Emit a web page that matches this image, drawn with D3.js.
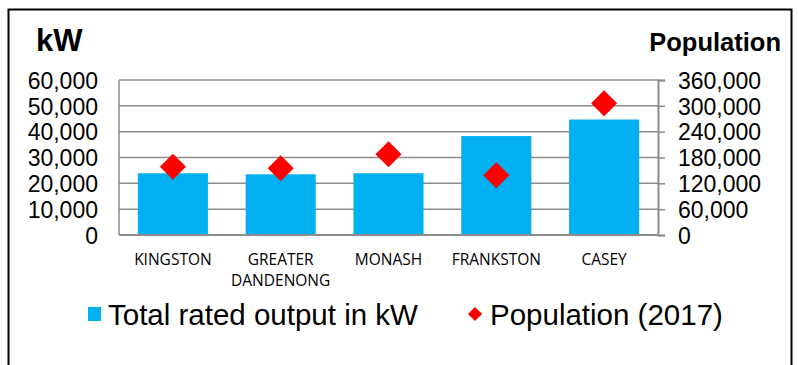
<!DOCTYPE html>
<html>
<head>
<meta charset="utf-8">
<script src="https://cdn.jsdelivr.net/npm/d3@7"></script>
<style>
  body { margin: 0; background: #fff; }
  svg { display: block; }
</style>
</head>
<body>
<svg id="chart" width="798" height="365"></svg>
<script>
// data
const councils = ["KINGSTON", "GREATER DANDENONG", "MONASH", "FRANKSTON", "CASEY"];
const outputKW = [23900, 23500, 23900, 38300, 44700];
const population = [158600, 154900, 187400, 138700, 305900];
const kwTicks = [0, 10000, 20000, 30000, 40000, 50000, 60000];
const popTicks = [0, 60000, 120000, 180000, 240000, 300000, 360000];

const svg = d3.select("#chart");
const m = { left: 119, right: 658, top: 80, bottom: 235 };
const sans = "Arial, 'Liberation Sans', sans-serif";

// outer frame
svg.append("rect")
    .attr("x", 8.5).attr("y", 9.5)
    .attr("width", 783).attr("height", 380)
    .attr("fill", "none").attr("stroke", "#000").attr("stroke-width", 2);

let x = d3.scaleBand().domain(councils).range([m.left, m.right]).paddingInner(0.35).paddingOuter(0.175);
let yL = d3.scaleLinear().domain([0, 60000]).range([m.bottom, m.top]);
let yR = d3.scaleLinear().domain([0, 360000]).range([m.bottom, m.top]);

const fmt = d3.format(",");

// gridlines
svg.append("g").selectAll("line")
    .data(kwTicks.slice(1))
    .join("line")
    .attr("x1", m.left).attr("x2", m.right)
    .attr("y1", d => yL(d)).attr("y2", d => yL(d))
    .attr("stroke", "#8c8c8c").attr("stroke-width", 1.5);

// bars
svg.append("g").selectAll("rect")
    .data(outputKW)
    .join("rect")
    .attr("x", (d, i) => x(councils[i]))
    .attr("width", x.bandwidth())
    .attr("y", d => yL(d))
    .attr("height", d => m.bottom - yL(d))
    .attr("fill", "#00b0f0");

// axis lines
svg.append("line").attr("x1", m.left).attr("x2", m.left).attr("y1", m.top).attr("y2", m.bottom)
    .attr("stroke", "#8c8c8c").attr("stroke-width", 1.5);
svg.append("line").attr("x1", m.left).attr("x2", m.right).attr("y1", m.bottom).attr("y2", m.bottom)
    .attr("stroke", "#8c8c8c").attr("stroke-width", 2);

// right axis
const rAxis = svg.append("g")
    .attr("transform", `translate(${m.right},0)`)
    .call(d3.axisRight(yR).tickValues(popTicks).tickFormat(fmt).tickSize(7).tickPadding(13));
rAxis.select(".domain").attr("stroke", "#8c8c8c").attr("stroke-width", 2);
rAxis.selectAll(".tick line").attr("stroke", "#8c8c8c").attr("stroke-width", 1.5);
rAxis.selectAll("text").attr("font-family", sans)
    .attr("font-size", 23).attr("fill", "#000").attr("dy", "0.36em");

// left axis
const lAxis = svg.append("g")
    .attr("transform", `translate(${m.left},0)`)
    .call(d3.axisLeft(yL).tickValues(kwTicks).tickFormat(fmt).tickSize(0).tickPadding(21));
lAxis.select(".domain").remove();
lAxis.selectAll("text").attr("font-family", sans)
    .attr("font-size", 23).attr("fill", "#000").attr("dy", "0.36em");

// diamonds
svg.append("g").selectAll("path")
    .data(population)
    .join("path")
    .attr("d", d3.symbol().type(d3.symbolSquare).size(340))
    .attr("transform", (d, i) => `translate(${x(councils[i]) + x.bandwidth() / 2},${yR(d)}) rotate(45)`)
    .attr("fill", "#ff0000");

// category labels
const catLabels = svg.append("g")
    .attr("font-family", "'Open Sans', 'Noto Sans', sans-serif")
    .attr("font-size", 15.5).attr("fill", "#000").attr("text-anchor", "middle");
councils.forEach((c, i) => {
    const words = c === "GREATER DANDENONG" ? ["GREATER", "DANDENONG"] : [c];
    words.forEach((w, j) => {
        catLabels.append("text")
            .attr("x", x(c) + x.bandwidth() / 2)
            .attr("y", 265 + j * 21)
            .text(w);
    });
});

// axis titles
svg.append("text").attr("x", 36).attr("y", 51)
    .attr("font-family", sans).attr("font-weight", "bold")
    .attr("font-size", 31).text("kW");
svg.append("text").attr("x", 781).attr("y", 51).attr("text-anchor", "end")
    .attr("font-family", sans).attr("font-weight", "bold")
    .attr("font-size", 25.5).text("Population");

// legend
const lg = svg.append("g").attr("font-family", sans).attr("font-size", 29.5);
lg.append("rect").attr("x", 88).attr("y", 307).attr("width", 13).attr("height", 14).attr("fill", "#00b0f0");
lg.append("text").attr("x", 108).attr("y", 325).text("Total rated output in kW");
lg.append("path").attr("d", d3.symbol().type(d3.symbolSquare).size(100))
    .attr("transform", "translate(475,314) rotate(45)").attr("fill", "#ff0000");
lg.append("text").attr("x", 490).attr("y", 325).text("Population (2017)");
</script>
</body>
</html>
